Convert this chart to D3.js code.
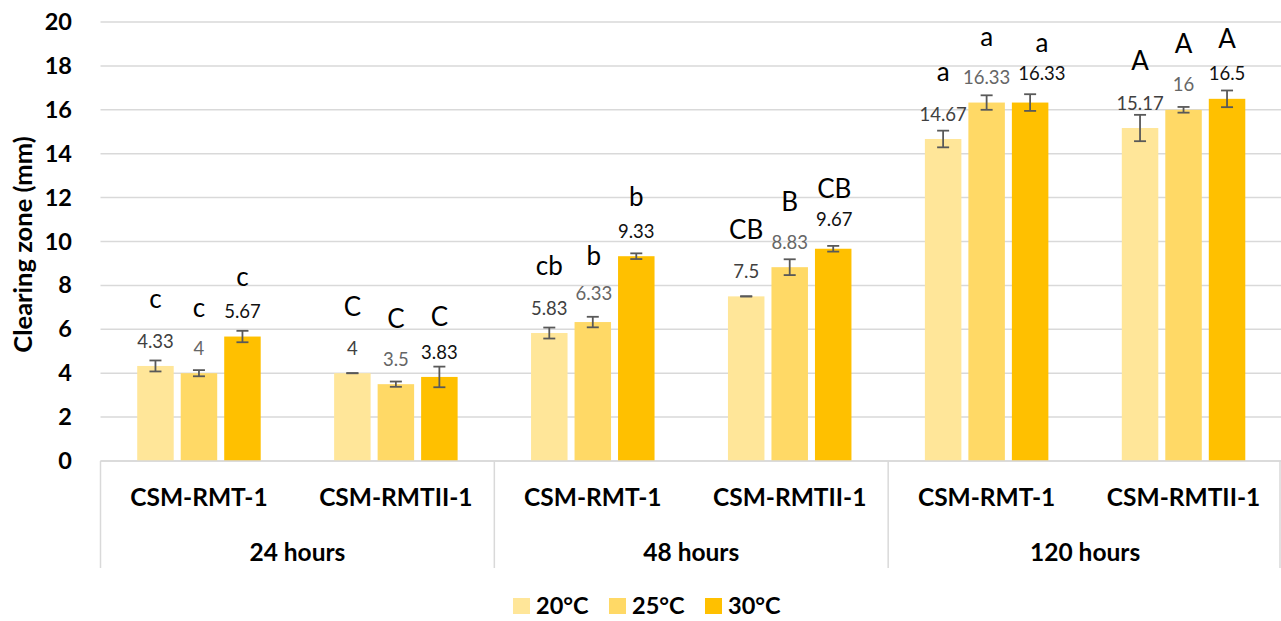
<!DOCTYPE html>
<html>
<head>
<meta charset="utf-8">
<script src="https://cdn.jsdelivr.net/npm/d3@7"></script>
<style>
  html, body { margin: 0; padding: 0; background: #fff; }
  svg { display: block; font-family: Lato, "Open Sans", sans-serif; }
</style>
</head>
<body>
<svg id="chart" width="1281" height="621"></svg>
<script>
// ---------- data ----------
const groups = ["24 hours", "48 hours", "120 hours"];
const strains = ["CSM-RMT-1", "CSM-RMTII-1"];
const series = ["20°C", "25°C", "30°C"];
const values20 = [4.33, 4, 5.83, 7.5, 14.67, 15.17];
const values25 = [4, 3.5, 6.33, 8.83, 16.33, 16];
const values30 = [5.67, 3.83, 9.33, 9.67, 16.33, 16.5];
const err20 = [0.25, 0, 0.25, 0, 0.38, 0.6];
const err25 = [0.14, 0.12, 0.24, 0.36, 0.33, 0.13];
const err30 = [0.26, 0.47, 0.13, 0.13, 0.38, 0.38];
const letters20 = ["c", "C", "cb", "CB", "a", "A"];
const letters25 = ["c", "C", "b", "B", "a", "A"];
const letters30 = ["c", "C", "b", "CB", "a", "A"];
const yTicks = [0, 2, 4, 6, 8, 10, 12, 14, 16, 18, 20];
const yTitle = "Clearing zone (mm)";

// ---------- derived table ----------
const categories = [];
groups.forEach(g => strains.forEach(s => categories.push(g + "|" + s)));
const seriesData = [
  { name: series[0], values: values20, errs: err20, letters: letters20 },
  { name: series[1], values: values25, errs: err25, letters: letters25 },
  { name: series[2], values: values30, errs: err30, letters: letters30 }
];

// ---------- style / layout ----------
const colors = { "20°C": "#FFE699", "25°C": "#FFD966", "30°C": "#FFC000" };
const labelColors = { "20°C": "#404040", "25°C": "#666666", "30°C": "#111111" };
const letterOffset = { "20°C": 67, "25°C": 66, "30°C": 60 };
const gridColor = "#d9d9d9";
const pLeft = 100.5, pRight = 1282, pTop = 22, pBottom = 461;

const svg = d3.select("#chart");
svg.append("rect").attr("width", 1281).attr("height", 621).attr("fill", "#fff");

const x = d3.scaleBand().domain(categories).range([pLeft, pRight]).padding(0);
const xs = d3.scaleBand().domain(series).range([0, x.bandwidth()])
  .paddingInner(0.161).paddingOuter(0.844);
const y = d3.scaleLinear().domain([0, 20]).range([pBottom, pTop]);

// gridlines
svg.append("g").selectAll("line").data(yTicks).join("line")
  .attr("x1", pLeft).attr("x2", 1281)
  .attr("y1", d => y(d)).attr("y2", d => y(d))
  .attr("stroke", gridColor).attr("stroke-width", 1.5);

// y axis labels
const yAxis = d3.axisLeft(y).tickValues(yTicks).tickSize(0).tickPadding(0);
const yg = svg.append("g").attr("transform", "translate(72,0)").call(yAxis);
yg.select(".domain").remove();
yg.selectAll("text").attr("font-family", "Lato").attr("font-weight", "bold")
  .attr("font-size", 23.5).attr("fill", "#000");

// y title
svg.append("text")
  .attr("transform", `translate(32,${(pTop + pBottom) / 2 + 3}) rotate(-90)`)
  .attr("text-anchor", "middle")
  .attr("font-weight", "bold").attr("font-size", 25.5)
  .attr("fill", "#000")
  .text(yTitle);

// bars
const sg = svg.append("g").selectAll("g").data(seriesData).join("g");
sg.selectAll("rect").data(s => s.values.map((v, i) => ({ s: s.name, v, i })))
  .join("rect")
  .attr("x", d => x(categories[d.i]) + xs(d.s))
  .attr("width", xs.bandwidth())
  .attr("y", d => y(d.v))
  .attr("height", d => y(0) - y(d.v))
  .attr("fill", d => colors[d.s]);

// error bars
const eg = svg.append("g").attr("stroke", "#595959").attr("stroke-width", 1.8);
seriesData.forEach(s => {
  s.values.forEach((v, i) => {
    const cx = x(categories[i]) + xs(s.name) + xs.bandwidth() / 2;
    const e = s.errs[i];
    eg.append("line").attr("x1", cx).attr("x2", cx).attr("y1", y(v + e)).attr("y2", y(v - e));
    [v + e, v - e].forEach(t => {
      eg.append("line").attr("x1", cx - 6).attr("x2", cx + 6).attr("y1", y(t)).attr("y2", y(t));
    });
  });
});

// value labels and letters
const labelNodes = categories.map(() => []);
seriesData.forEach(s => {
  s.values.forEach((v, i) => {
    const cx = x(categories[i]) + xs(s.name) + xs.bandwidth() / 2;
    const lab = svg.append("text").attr("x", cx).attr("y", y(v) - 25).attr("dy", "0.36em")
      .attr("text-anchor", "middle").attr("font-size", 18.5)
      .attr("fill", labelColors[s.name]).text(v);
    const let_ = svg.append("text").attr("x", cx).attr("y", y(v) - letterOffset[s.name]).attr("dy", "0.36em")
      .attr("text-anchor", "middle").attr("font-size", 26)
      .attr("fill", "#000").text(s.letters[i]);
    labelNodes[i].push({ lab, let_, cx });
  });
});
// nudge value labels right when they collide with the neighbour on the left
labelNodes.forEach(list => {
  for (let k = 1; k < list.length; k++) {
    const a = list[k - 1].lab.node().getBBox();
    const b = list[k].lab.node().getBBox();
    const vOverlap = a.y < b.y + b.height && b.y < a.y + a.height;
    const need = a.x + a.width + 8 - b.x;
    if (vOverlap && need > 0) {
      list[k].lab.attr("x", list[k].cx + need).attr("y", +list[k].lab.attr("y") - 4);
      list[k].let_.attr("x", list[k].cx + need);
    }
  }
});

// category axis
const ag = svg.append("g");
ag.append("line").attr("x1", pLeft).attr("x2", 1281).attr("y1", pBottom).attr("y2", pBottom)
  .attr("stroke", gridColor).attr("stroke-width", 1.5);
const sepX = [0, 2, 4, 6].map(k => k < 6 ? x(categories[k]) : 1280);
ag.selectAll("line.sep").data(sepX).join("line").attr("class", "sep")
  .attr("x1", d => d).attr("x2", d => d).attr("y1", pBottom).attr("y2", 568)
  .attr("stroke", gridColor).attr("stroke-width", 1.5);
ag.selectAll("text.cat").data(categories).join("text").attr("class", "cat")
  .attr("x", d => x(d) + x.bandwidth() / 2).attr("y", 497).attr("dy", "0.36em")
  .attr("text-anchor", "middle").attr("font-weight", "bold").attr("font-size", 24.5)
  .text(d => d.split("|")[1]);
ag.selectAll("text.grp").data(groups).join("text").attr("class", "grp")
  .attr("x", (d, k) => x(categories[2 * k]) + x.bandwidth())
  .attr("y", 552).attr("dy", "0.36em")
  .attr("text-anchor", "middle").attr("font-weight", "bold").attr("font-size", 24.5)
  .text(d => d);

// legend
const lg = svg.append("g").selectAll("g").data(series).join("g")
  .attr("transform", (d, k) => `translate(${513 + k * 96},598)`);
lg.append("rect").attr("width", 17).attr("height", 16).attr("fill", d => colors[d]);
lg.append("text").attr("x", 23).attr("y", 8).attr("dy", "0.36em")
  .attr("font-weight", "bold").attr("font-size", 23.5).text(d => d);
</script>
</body>
</html>
